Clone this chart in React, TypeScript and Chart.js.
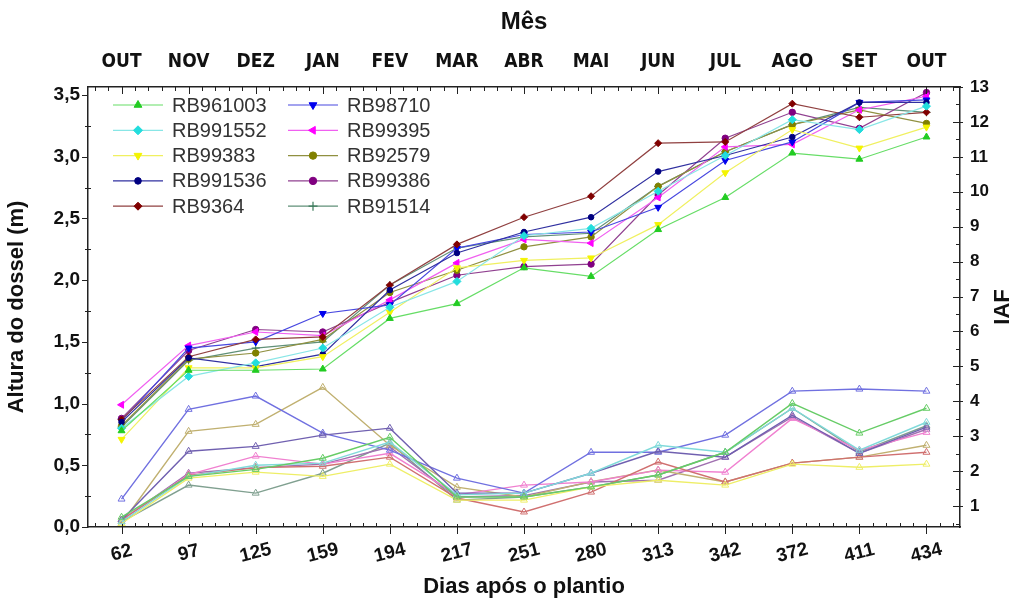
import React, { useEffect, useRef } from 'react';
import { Chart, registerables } from 'chart.js';
import { drawPoint } from 'chart.js/helpers';

Chart.register(...registerables);

// ---- categories / tick labels ----
const dias = ['62', '97', '125', '159', '194', '217', '251', '280', '313', '342', '372', '411', '434'];
const meses = ['OUT', 'NOV', 'DEZ', 'JAN', 'FEV', 'MAR', 'ABR', 'MAI', 'JUN', 'JUL', 'AGO', 'SET', 'OUT'];
const alturaTicks = [0, 0.5, 1, 1.5, 2, 2.5, 3, 3.5];
const iafTicks = [1, 2, 3, 4, 5, 6, 7, 8, 9, 10, 11, 12, 13];

// ---- canopy height (m) ----
const alturaRB961003 = [0.78, 1.27, 1.27, 1.28, 1.69, 1.81, 2.10, 2.03, 2.41, 2.67, 3.03, 2.98, 3.16];
const alturaRB991552 = [0.80, 1.22, 1.33, 1.45, 1.78, 1.99, 2.36, 2.42, 2.72, 3.01, 3.30, 3.22, 3.41];
const alturaRB99383 = [0.71, 1.29, 1.29, 1.38, 1.74, 2.10, 2.16, 2.18, 2.45, 2.87, 3.22, 3.07, 3.24];
const alturaRB991536 = [0.85, 1.37, 1.30, 1.40, 1.92, 2.22, 2.39, 2.51, 2.88, 3.01, 3.16, 3.44, 3.44];
const alturaRB9364 = [0.87, 1.38, 1.52, 1.54, 1.96, 2.29, 2.51, 2.68, 3.11, 3.12, 3.43, 3.32, 3.36];
const alturaRB98710 = [0.86, 1.45, 1.50, 1.73, 1.80, 2.26, 2.37, 2.39, 2.59, 2.97, 3.12, 3.44, 3.46];
const alturaRB99395 = [0.99, 1.47, 1.58, 1.55, 1.84, 2.14, 2.33, 2.30, 2.67, 3.08, 3.10, 3.38, 3.49];
const alturaRB92579 = [0.82, 1.36, 1.41, 1.52, 1.90, 2.08, 2.27, 2.35, 2.76, 3.04, 3.26, 3.38, 3.27];
const alturaRB99386 = [0.88, 1.43, 1.60, 1.58, 1.82, 2.04, 2.11, 2.13, 2.69, 3.15, 3.36, 3.23, 3.52];
const alturaRB91514 = [0.81, 1.35, 1.45, 1.50, 1.96, 2.26, 2.35, 2.38, 2.76, 3.04, 3.26, 3.40, 3.36];

// ---- leaf area index (IAF) ----
const iafRB961003 = [0.68, 1.85, 2.05, 2.37, 2.97, 1.26, 1.26, 1.55, 1.89, 2.54, 3.94, 3.09, 3.80];
const iafRB991552 = [0.55, 1.85, 2.17, 2.23, 2.83, 1.32, 1.37, 1.94, 2.74, 2.54, 3.80, 2.60, 3.40];
const iafRB99383 = [0.50, 1.80, 1.97, 1.85, 2.20, 1.17, 1.17, 1.55, 1.74, 1.60, 2.20, 2.11, 2.20];
const iafRB991536 = [0.60, 2.57, 2.71, 3.03, 3.23, 1.37, 1.37, 1.94, 2.57, 2.40, 3.60, 2.51, 3.26];
const iafRB9364 = [0.60, 1.88, 2.10, 2.14, 2.40, 1.23, 0.83, 1.40, 2.26, 1.69, 2.23, 2.40, 2.54];
const iafRB98710 = [1.20, 3.77, 4.15, 3.09, 2.60, 1.80, 1.37, 2.54, 2.54, 3.03, 4.29, 4.35, 4.29];
const iafRB99395 = [0.60, 1.90, 2.43, 2.20, 2.51, 1.32, 1.60, 1.69, 2.03, 1.97, 3.51, 2.60, 3.11];
const iafRB92579 = [0.50, 3.14, 3.34, 4.40, 2.74, 1.54, 1.26, 1.70, 2.03, 1.69, 2.23, 2.40, 2.74];
const iafRB99386 = [0.60, 1.94, 2.10, 2.20, 2.69, 1.26, 1.30, 1.69, 1.74, 2.40, 3.55, 2.51, 3.20];
const iafRB91514 = [0.55, 1.60, 1.37, 1.94, 2.80, 1.17, 1.26, 1.55, 1.89, 2.54, 3.80, 2.55, 3.30];

const cultivares = [
  { nome: 'RB961003', altura: alturaRB961003, iaf: iafRB961003, cor: '#22cc22', linha: '#66dd66', iafCor: '#66cc66', estilo: 'triangle', rot: 0, raio: 4 },
  { nome: 'RB991552', altura: alturaRB991552, iaf: iafRB991552, cor: '#22dddd', linha: '#88e6e6', iafCor: '#80dada', estilo: 'rectRot', rot: 0, raio: 4 },
  { nome: 'RB99383', altura: alturaRB99383, iaf: iafRB99383, cor: '#f4f400', linha: '#f0f060', iafCor: '#eeee66', estilo: 'triangle', rot: 180, raio: 4 },
  { nome: 'RB991536', altura: alturaRB991536, iaf: iafRB991536, cor: '#000080', linha: '#3030a0', iafCor: '#7060b0', estilo: 'circle', rot: 0, raio: 2.8 },
  { nome: 'RB9364', altura: alturaRB9364, iaf: iafRB9364, cor: '#800000', linha: '#904040', iafCor: '#d07070', estilo: 'rectRot', rot: 0, raio: 3.5 },
  { nome: 'RB98710', altura: alturaRB98710, iaf: iafRB98710, cor: '#0000ee', linha: '#4848e0', iafCor: '#7070e0', estilo: 'triangle', rot: 180, raio: 4 },
  { nome: 'RB99395', altura: alturaRB99395, iaf: iafRB99395, cor: '#ff00ff', linha: '#f060f0', iafCor: '#f080d0', estilo: 'triangle', rot: 270, raio: 4 },
  { nome: 'RB92579', altura: alturaRB92579, iaf: iafRB92579, cor: '#808000', linha: '#909040', iafCor: '#c0b070', estilo: 'circle', rot: 0, raio: 3.2 },
  { nome: 'RB99386', altura: alturaRB99386, iaf: iafRB99386, cor: '#800080', linha: '#904090', iafCor: '#a070b0', estilo: 'circle', rot: 0, raio: 3.2 },
  { nome: 'RB91514', altura: alturaRB91514, iaf: iafRB91514, cor: '#3a7a5a', linha: '#609078', iafCor: '#80a090', estilo: 'cross', rot: 0, raio: 4 },
];

const FONT = '"Liberation Sans", Arial, sans-serif';
const NARROW = '"DejaVu Sans Condensed", "Liberation Sans", Arial, sans-serif';

const decorPlugin = {
  id: 'decor',
  afterDraw(chart: any) {
    const ctx = chart.ctx;
    const { left, right, top, bottom } = chart.chartArea;
    const sx = chart.scales.x;
    const st = chart.scales.xTop;
    const sy = chart.scales.y;
    const sy1 = chart.scales.y1;
    ctx.save();
    ctx.strokeStyle = '#222';
    ctx.lineWidth = 1;
    ctx.beginPath();
    for (let m = -3; m <= 63; m++) {
      const v = m / 5;
      const px = Math.round(sx.getPixelForValue(v)) + 0.5;
      if (px < left || px > right) continue;
      const major = m % 5 === 0 && m >= 0 && m <= 60;
      if (major) {
        ctx.moveTo(px, bottom); ctx.lineTo(px, bottom + 7);
        ctx.moveTo(px, bottom); ctx.lineTo(px, bottom - 3);
      } else {
        ctx.moveTo(px, bottom); ctx.lineTo(px, bottom - 4);
      }
      const pt = Math.round(st.getPixelForValue(v)) + 0.5;
      ctx.moveTo(pt, top); ctx.lineTo(pt, top + (major ? 7 : 4));
    }
    for (let v = 0; v <= 3.55; v += 0.25) {
      const py = Math.round(sy.getPixelForValue(v)) + 0.5;
      const major = Math.abs((v * 2) - Math.round(v * 2)) < 1e-6;
      ctx.moveTo(left, py); ctx.lineTo(left - (major ? 6 : 3), py);
      if (!major) { ctx.moveTo(left, py); ctx.lineTo(left + 3, py); }
    }
    for (let v = 0.5; v <= 13.01; v += 0.5) {
      const py = Math.round(sy1.getPixelForValue(v)) + 0.5;
      const major = Math.abs(v - Math.round(v)) < 1e-6;
      ctx.moveTo(right, py); ctx.lineTo(right - (major ? 7 : 4), py);
      if (major) { ctx.moveTo(right, py); ctx.lineTo(right + 3, py); }
    }
    ctx.stroke();

    // bottom tick labels (tilted)
    ctx.fillStyle = '#111';
    ctx.font = `bold 19px ${FONT}`;
    ctx.textAlign = 'center';
    ctx.textBaseline = 'middle';
    const labels = sx.getLabels();
    labels.forEach((lab: string, i: number) => {
      const px = sx.getPixelForValue(i);
      ctx.save();
      ctx.translate(px, bottom + 26);
      ctx.rotate(-14 * Math.PI / 180);
      ctx.fillText(lab, 0, 0);
      ctx.restore();
    });

    // right axis title
    ctx.save();
    ctx.font = `bold 22px ${FONT}`;
    ctx.translate(1003, (top + bottom) / 2);
    ctx.rotate(-Math.PI / 2);
    ctx.fillText('IAF', 0, 0);
    ctx.restore();

    // legend (two columns, height series only)
    const colX = [113, 288];
    ctx.font = `20px ${FONT}`;
    ctx.textAlign = 'left';
    ctx.textBaseline = 'middle';
    chart.data.datasets.forEach((ds: any, i: number) => {
      if (ds.yAxisID !== 'y') return;
      const col = i < 5 ? 0 : 1;
      const row = i % 5;
      const x0 = colX[col];
      const y0 = 105 + row * 25.3;
      ctx.strokeStyle = ds.borderColor;
      ctx.lineWidth = 1.2;
      ctx.beginPath();
      ctx.moveTo(x0, y0); ctx.lineTo(x0 + 50, y0);
      ctx.stroke();
      ctx.fillStyle = ds.pointBackgroundColor;
      ctx.strokeStyle = ds.pointBorderColor;
      ctx.lineWidth = ds.pointStyle === 'cross' ? 1.2 : 1;
      drawPoint(ctx, { pointStyle: ds.pointStyle, rotation: ds.pointRotation, radius: ds.pointRadius + 0.5, borderWidth: 1 }, x0 + 25, y0);
      ctx.fillStyle = '#333';
      ctx.fillText(ds.label, x0 + 59, y0 + 1);
    });
    ctx.restore();
  },
};

export default function App() {
  const ref = useRef<HTMLCanvasElement | null>(null);
  useEffect(() => {
    if (!ref.current) return;
    const alturaSets = cultivares.map((c) => ({
      label: c.nome,
      data: c.altura,
      yAxisID: 'y',
      xAxisID: 'x',
      borderColor: c.linha,
      borderWidth: 1.2,
      pointStyle: c.estilo,
      pointRotation: c.rot,
      pointRadius: c.raio,
      pointBackgroundColor: c.cor,
      pointBorderColor: c.cor,
      pointBorderWidth: 1,
      tension: 0,
    }));
    const iafSets = cultivares.map((c) => ({
      label: 'IAF ' + c.nome,
      data: c.iaf,
      yAxisID: 'y1',
      xAxisID: 'x',
      borderColor: c.iafCor,
      borderWidth: 1.4,
      pointStyle: 'triangle',
      pointRotation: 0,
      pointRadius: 4,
      pointBackgroundColor: 'rgba(255,255,255,0)',
      pointBorderColor: c.iafCor,
      pointBorderWidth: 1,
      tension: 0,
    }));
    const chart = new Chart(ref.current, {
      type: 'line',
      data: { labels: dias, datasets: [...alturaSets, ...iafSets] as any },
      options: {
        animation: false,
        responsive: true,
        maintainAspectRatio: false,
        devicePixelRatio: 1,
        layout: { padding: 0 },
        plugins: { legend: { display: false }, tooltip: { enabled: false }, title: { display: false } },
        scales: {
          x: {
            type: 'category',
            position: 'bottom',
            offset: true,
            grid: { display: false, drawTicks: false },
            border: { display: true, color: '#222', width: 1.5 },
            ticks: { display: false },
            title: { display: true, text: 'Dias após o plantio', color: '#111', font: { family: FONT, size: 22, weight: 'bold' }, padding: { top: 0, bottom: 2 } },
            afterFit: (s: any) => { s.height = 75; },
          },
          xTop: {
            type: 'category',
            position: 'top',
            labels: meses,
            offset: true,
            min: 0,
            max: 12,
            grid: { display: false, drawTicks: false },
            border: { display: true, color: '#222', width: 1.5 },
            ticks: { color: '#111', font: { family: NARROW, size: 19, weight: 'bold' }, padding: 14, maxRotation: 0, minRotation: 0, autoSkip: false },
            title: { display: true, text: 'Mês', color: '#111', font: { family: FONT, size: 24, weight: 'bold' }, padding: { top: 8, bottom: 0 } },
            afterFit: (s: any) => { s.height = 87; },
          },
          y: {
            type: 'linear',
            position: 'left',
            min: 0,
            max: 3.565,
            afterBuildTicks: (s: any) => { s.ticks = alturaTicks.map((v) => ({ value: v })); },
            grid: { display: false, drawTicks: false },
            border: { display: true, color: '#222', width: 1.5 },
            ticks: { color: '#111', font: { family: FONT, size: 19, weight: 'bold' }, padding: 8, callback: (v: any) => Number(v).toFixed(1).replace('.', ',') },
            title: { display: true, text: 'Altura do dossel (m)', color: '#111', font: { family: FONT, size: 22, weight: 'bold' }, padding: { top: 4, bottom: 0 } },
            afterFit: (s: any) => { s.width = 88; },
          },
          y1: {
            type: 'linear',
            position: 'right',
            min: 0.4,
            max: 13,
            afterBuildTicks: (s: any) => { s.ticks = iafTicks.map((v) => ({ value: v })); },
            grid: { display: false, drawTicks: false },
            border: { display: true, color: '#222', width: 1.5 },
            ticks: { color: '#111', font: { family: FONT, size: 17, weight: 'bold' }, padding: 10, callback: (v: any) => String(v) },
            afterFit: (s: any) => { s.width = 56; },
          },
        },
      } as any,
      plugins: [decorPlugin],
    });
    return () => chart.destroy();
  }, []);
  return (
    <div style={{ position: 'absolute', left: 0, top: 0, width: 1016, height: 602, background: '#fff' }}>
      <canvas ref={ref} />
    </div>
  );
}
